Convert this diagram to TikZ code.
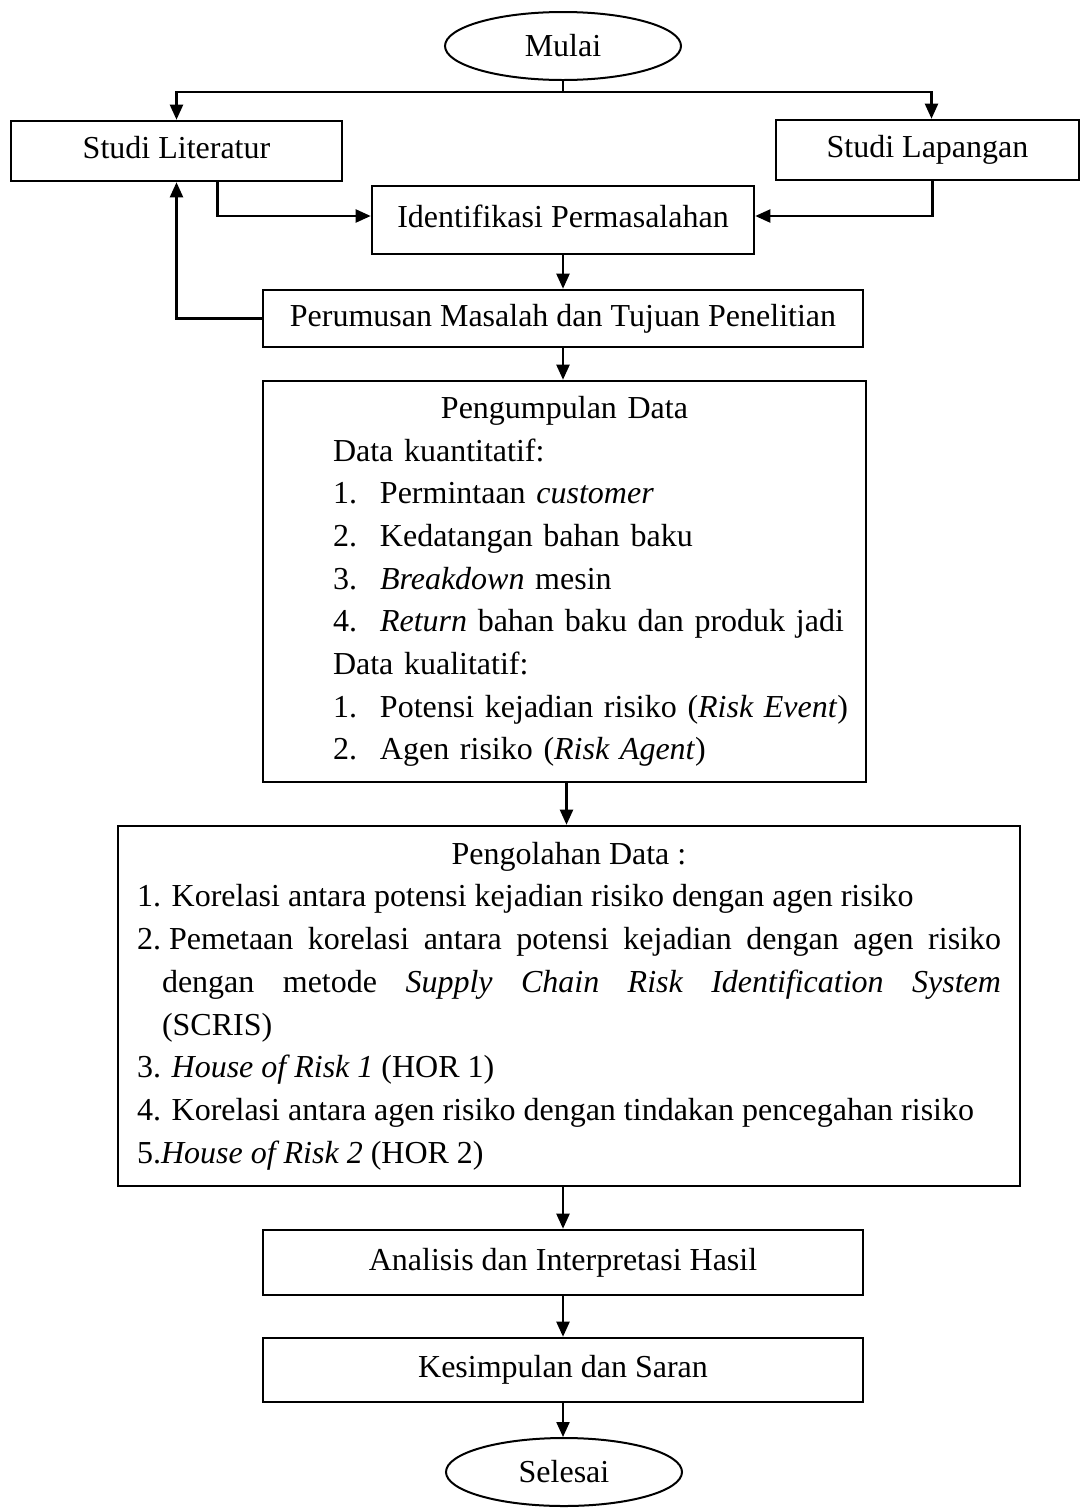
\documentclass[tikz,border=0pt]{standalone}
\usepackage{fontspec}
\setmainfont{Liberation Serif}
\usepackage{tikz}
\usetikzlibrary{arrows.meta,positioning,shapes.geometric,calc}

\begin{document}
\begin{tikzpicture}[
    x=1pt, y=-1pt,%按像素取坐标
    font=\fontsize{32}{42.7}\selectfont,
    terminal/.style={
        % The shape:
        ellipse,
        minimum width=236pt,
        minimum height=68pt,
        inner sep=0pt,
        % The line
        draw, line width=2pt},
    block/.style={
        rectangle,
        inner sep=0pt,
        draw, line width=2.6pt},
    single/.style={block, text height=22pt, text depth=7pt},%单行文字
    line/.style={line width=2.2pt},
    arrow/.style={line, -{Triangle[length=15pt,width=13pt]}}]%流程图
  \useasboundingbox (0,0) rectangle (1080,1508);
  \node (mulai) [terminal] at (563,46) {Mulai};
  \node (lit) [single, minimum width=331pt, minimum height=60pt] at (176.5,151) {Studi Literatur};
  \node (lap) [single, minimum width=303pt, minimum height=60pt] at (927.5,150) {Studi Lapangan};
  \node (ident) [single, minimum width=382pt, minimum height=68pt] at (563,220) {Identifikasi Permasalahan};
  \node (rumus) [single, minimum width=600pt, minimum height=57pt] at (563,318.5) {Perumusan Masalah dan Tujuan Penelitian};
  \node (kumpul) [block, text width=603pt, minimum height=401pt, align=left] at (564.5,581.5) {%
    {\centering Pengumpulan Data\par}
    \hspace*{70pt}Data kuantitatif:\par
    \hspace*{70pt}\makebox[47pt][l]{1.}Permintaan \textit{customer}\par
    \hspace*{70pt}\makebox[47pt][l]{2.}Kedatangan bahan baku\par
    \hspace*{70pt}\makebox[47pt][l]{3.}\textit{Breakdown} mesin\par
    \hspace*{70pt}\makebox[47pt][l]{4.}\textit{Return} bahan baku dan produk jadi\par
    \hspace*{70pt}Data kualitatif:\par
    \hspace*{70pt}\makebox[47pt][l]{1.}Potensi kejadian risiko (\textit{Risk Event})\par
    \hspace*{70pt}\makebox[47pt][l]{2.}Agen risiko (\textit{Risk Agent})};
  \node (olah) [block, text width=864pt, inner xsep=19pt, minimum height=360pt, align=justify] at (569,1006) {%
    {\centering Pengolahan Data :\par}
    1. Korelasi antara potensi kejadian risiko dengan agen risiko\par
    \hangindent=25pt\hangafter=1 2.\hspace{8pt}Pemetaan korelasi antara potensi kejadian dengan agen risiko\linebreak
    dengan metode \textit{Supply Chain Risk Identification System}\linebreak (SCRIS)\par
    3. \textit{House of Risk 1} (HOR 1)\par
    4. Korelasi antara agen risiko dengan tindakan pencegahan risiko\par
    5.\textit{House of Risk 2} (HOR 2)};
  \node (analisis) [single, minimum width=600pt, minimum height=65pt] at (563,1262.5) {Analisis dan Interpretasi Hasil};
  \node (simpul) [single, minimum width=600pt, minimum height=64pt] at (563,1370) {Kesimpulan dan Saran};
  \node (selesai) [terminal] at (564,1472) {Selesai};
  % 连线
  \coordinate (split) at (563,92);
  \draw[line] (mulai) -- (split);
  \draw[arrow] (split) -| (lit.north);
  \draw[arrow] (split) -| ([xshift=4pt]lap.north);
  \draw[arrow] ([xshift=41pt]lit.south) |- ([yshift=4pt]ident.west);
  \draw[arrow] ([xshift=5pt]lap.south) |- ([yshift=4pt]ident.east);
  \draw[arrow] (ident) -- (rumus);
  \draw[arrow] (rumus.west) -| (lit.south);
  \draw[arrow] (rumus.south) -- (rumus.south |- kumpul.north);
  \draw[arrow] ([xshift=2pt]kumpul.south) -- ([xshift=2pt]kumpul.south |- olah.north);
  \draw[arrow] (analisis.north |- olah.south) -- (analisis.north);
  \draw[arrow] (analisis) -- (simpul);
  \draw[arrow] (simpul.south) -- (simpul.south |- selesai.north);
\end{tikzpicture}
\end{document}
